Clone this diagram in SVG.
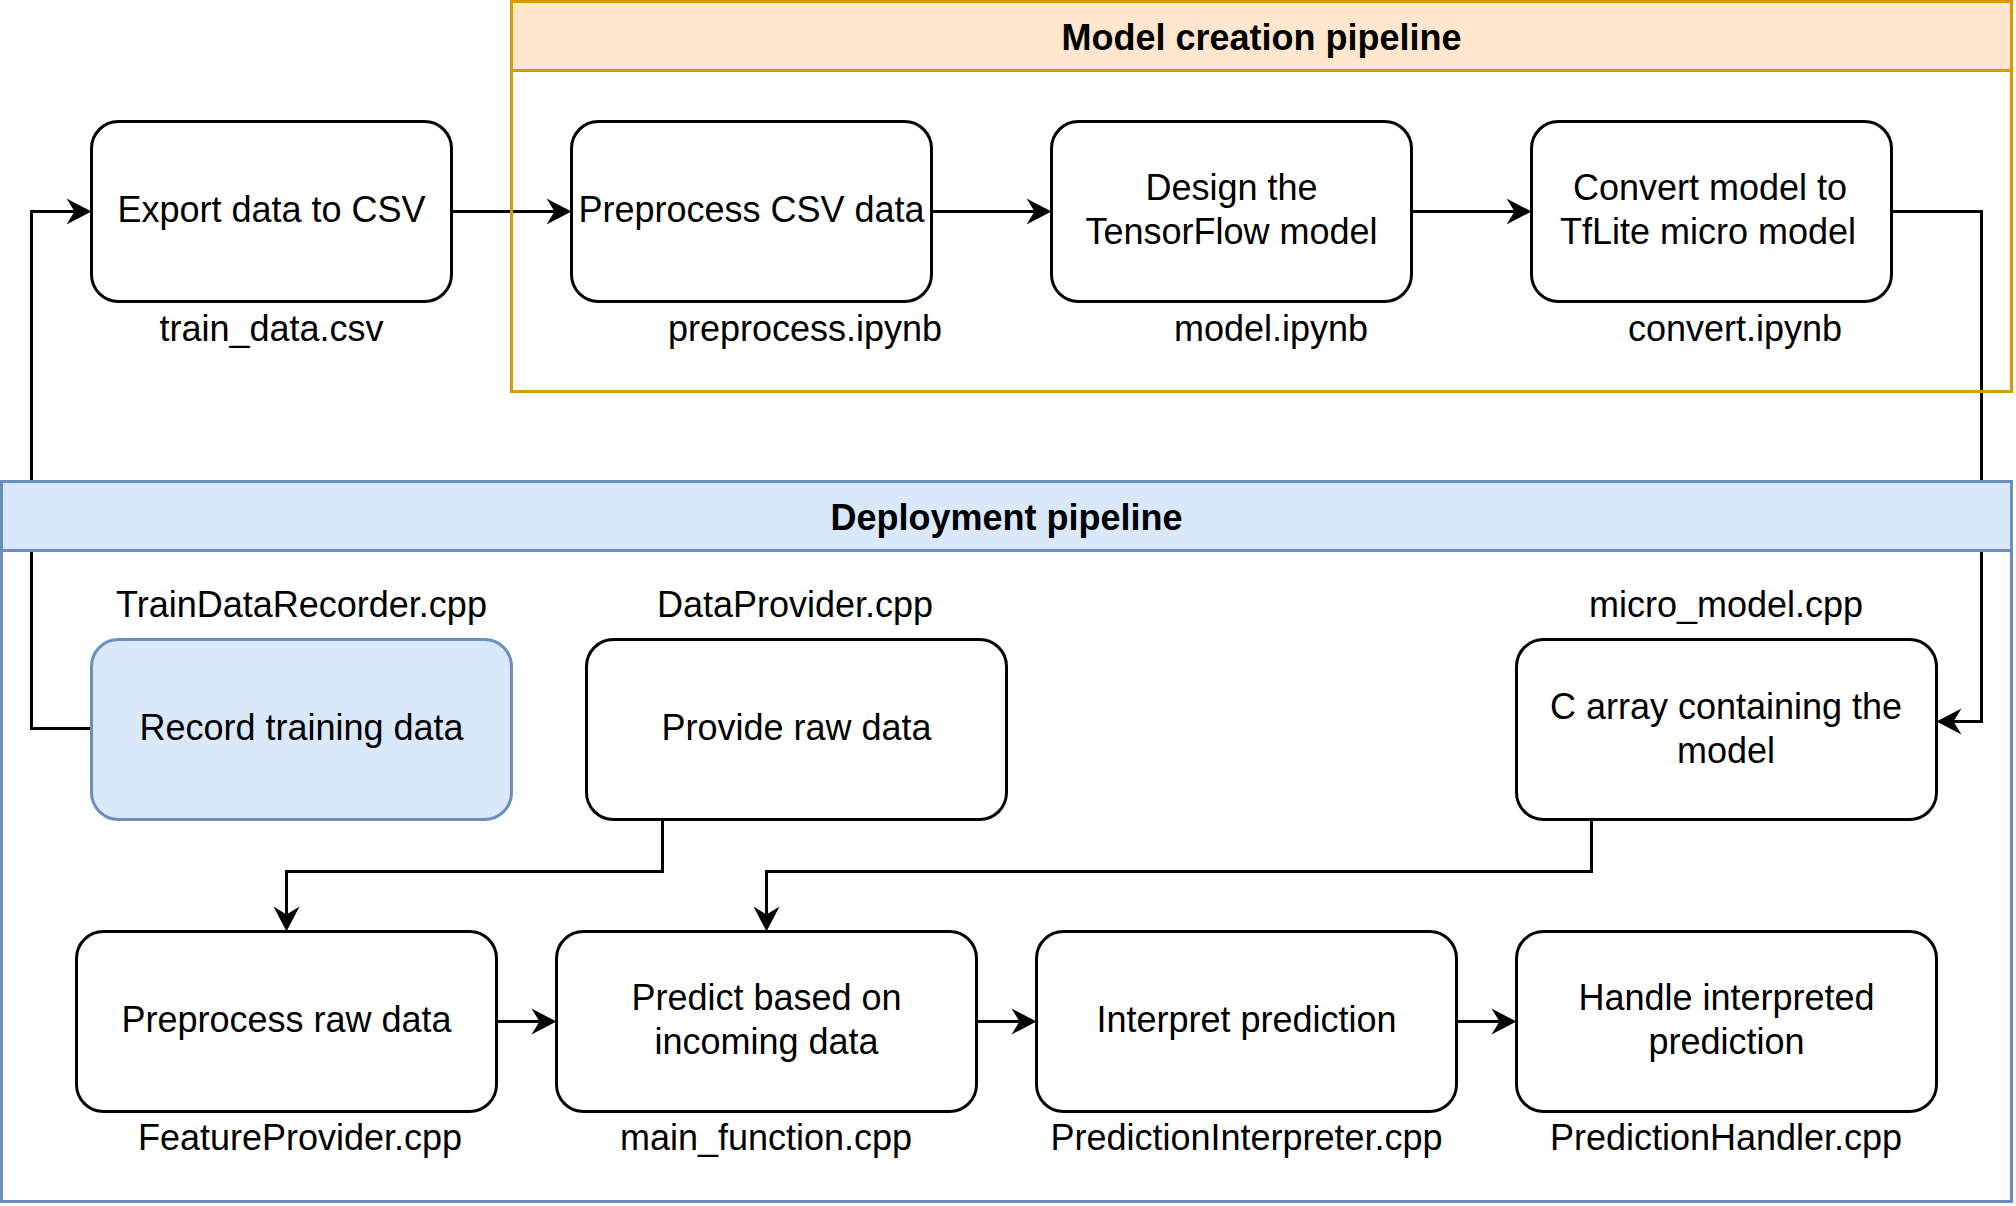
<svg xmlns="http://www.w3.org/2000/svg" width="2016" height="1206" viewBox="0 0 2016 1206">
<style>
text { font-family: "Liberation Sans", Arial, sans-serif; font-size: 36px; fill: #000; }
.c { text-anchor: middle; }
.title { font-weight: bold; text-anchor: middle; }
.box { fill: #ffffff; stroke: #000000; stroke-width: 3; }
.blue { fill: #dae8fc; stroke: #6c8ebf; stroke-width: 3; }
.edge { fill: none; stroke: #000000; stroke-width: 3; marker-end: url(#arr); }
.edge2 { fill: none; stroke: #000000; stroke-width: 3; }
.ohead { fill: #ffe6cc; stroke: #d79b00; stroke-width: 3; }
.obody { fill: none; stroke: #d79b00; stroke-width: 3; }
.bhead { fill: #dae8fc; stroke: #6c8ebf; stroke-width: 3; }
.bbody { fill: none; stroke: #6c8ebf; stroke-width: 3; }
</style>
<defs>
<marker id="arr" markerUnits="userSpaceOnUse" markerWidth="40" markerHeight="40" refX="0" refY="0" orient="auto" overflow="visible">
<path d="M17,0 L-8,-13 L0,0 L-8,13 Z" fill="#000" stroke="none"/>
</marker>
</defs>
<rect width="2016" height="1206" fill="#ffffff"/>

<g id="connectors">
<path class="edge" d="M451.5,211.5 H554.5"/>
<path class="edge" d="M931.5,211.5 H1034.5"/>
<path class="edge" d="M1411.5,211.5 H1514.5"/>
<path class="edge" d="M1891.5,211.5 H1981.5 V721.5 H1953.5"/>
<path class="edge" d="M91.5,728.5 H31.5 V211.5 H74.5"/>
<path class="edge" d="M662.5,819.5 V871.5 H286.5 V914.5"/>
<path class="edge" d="M1591.5,819.5 V871.5 H766.5 V914.5"/>
<path class="edge" d="M496.5,1021.5 H539.5"/>
<path class="edge" d="M976.5,1021.5 H1019.5"/>
<path class="edge" d="M1456.5,1021.5 H1499.5"/>
</g>

<g id="model-creation-pipeline">
<rect class="obody" x="511.5" y="1.5" width="1500" height="390"/>
<rect class="ohead" x="511.5" y="1.5" width="1500" height="69"/>
<text class="title" x="1261.5" y="49.5">Model creation pipeline</text>
</g>

<g id="deployment-pipeline">
<rect class="bbody" x="1.5" y="481.5" width="2010" height="720"/>
<rect class="bhead" x="1.5" y="481.5" width="2010" height="69"/>
<text class="title" x="1006.5" y="529.5">Deployment pipeline</text>
</g>

<g id="export">
<rect class="box" x="91.5" y="121.5" width="360" height="180" rx="27"/>
<text class="c" x="271.5" y="222">Export data to CSV</text>
<text class="c" x="271.5" y="341">train_data.csv</text>
</g>

<g id="preprocess-csv">
<rect class="box" x="571.5" y="121.5" width="360" height="180" rx="27"/>
<text class="c" x="751.5" y="222">Preprocess CSV data</text>
<text class="c" x="805" y="341">preprocess.ipynb</text>
</g>

<g id="design-model">
<rect class="box" x="1051.5" y="121.5" width="360" height="180" rx="27"/>
<text class="c" x="1231.5" y="200">Design the</text>
<text class="c" x="1231.5" y="243.5">TensorFlow model</text>
<text class="c" x="1271" y="341">model.ipynb</text>
</g>

<g id="convert-model">
<rect class="box" x="1531.5" y="121.5" width="360" height="180" rx="27"/>
<text class="c" x="1710" y="200">Convert model to</text>
<text class="c" x="1708" y="243.5">TfLite micro model</text>
<text class="c" x="1735" y="341">convert.ipynb</text>
</g>

<g id="record-training-data">
<rect class="blue" x="91.5" y="639.5" width="420" height="180" rx="27"/>
<text class="c" x="301.5" y="740">Record training data</text>
<text class="c" x="301.5" y="617">TrainDataRecorder.cpp</text>
</g>

<g id="provide-raw-data">
<rect class="box" x="586.5" y="639.5" width="420" height="180" rx="27"/>
<text class="c" x="796.5" y="740">Provide raw data</text>
<text class="c" x="795" y="617">DataProvider.cpp</text>
</g>

<g id="c-array">
<rect class="box" x="1516.5" y="639.5" width="420" height="180" rx="27"/>
<text class="c" x="1726" y="719">C array containing the</text>
<text class="c" x="1726" y="763">model</text>
<text class="c" x="1726" y="617">micro_model.cpp</text>
</g>

<g id="preprocess-raw-data">
<rect class="box" x="76.5" y="931.5" width="420" height="180" rx="27"/>
<text class="c" x="286.5" y="1032">Preprocess raw data</text>
<text class="c" x="300" y="1150">FeatureProvider.cpp</text>
</g>

<g id="predict">
<rect class="box" x="556.5" y="931.5" width="420" height="180" rx="27"/>
<text class="c" x="766.5" y="1010">Predict based on</text>
<text class="c" x="766.5" y="1054">incoming data</text>
<text class="c" x="766" y="1150">main_function.cpp</text>
</g>

<g id="interpret-prediction">
<rect class="box" x="1036.5" y="931.5" width="420" height="180" rx="27"/>
<text class="c" x="1246.5" y="1032">Interpret prediction</text>
<text class="c" x="1246.5" y="1150">PredictionInterpreter.cpp</text>
</g>

<g id="handle-prediction">
<rect class="box" x="1516.5" y="931.5" width="420" height="180" rx="27"/>
<text class="c" x="1726.5" y="1010">Handle interpreted</text>
<text class="c" x="1726.5" y="1054">prediction</text>
<text class="c" x="1726" y="1150">PredictionHandler.cpp</text>
</g>
</svg>
